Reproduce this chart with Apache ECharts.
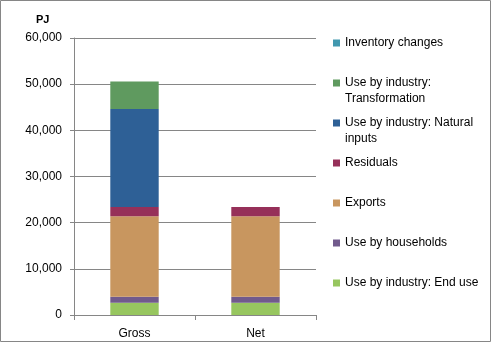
<!DOCTYPE html>
<html><head><meta charset="utf-8">
<script src="https://cdn.jsdelivr.net/npm/echarts@6/dist/echarts.min.js"></script>
<style>html,body{margin:0;padding:0;background:#fff}#c{width:491px;height:342px}</style>
</head><body><div id="c"></div>
<script>
const categories = ['Gross', 'Net'];
const seriesNames = ['Use by industry: End use', 'Use by households', 'Exports', 'Residuals', 'Use by industry: Natural inputs', 'Use by industry: Transformation', 'Inventory changes'];
const endUse = [2650, 2650];
const households = [1300, 1300];
const exportsVals = [17450, 17450];
const residuals = [2000, 2000];
const naturalInputs = [21200, 0];
const transformation = [6000, 0];
const inventory = [0, 0];
const yTicks = [0, 10000, 20000, 30000, 40000, 50000, 60000];
const colors = ['#97C65F', '#715A8C', '#C8965F', '#963059', '#2E6096', '#5F9A5F', '#4198AF'];
const values = [endUse, households, exportsVals, residuals, naturalInputs, transformation, inventory];

const legendOrder = [6, 5, 4, 3, 2, 1, 0];
const legendLabels = {
  'Use by industry: Transformation': '\nUse by industry:\nTransformation',
  'Use by industry: Natural inputs': '\nUse by industry: Natural\ninputs'
};
const font = 'Liberation Sans, Arial, sans-serif';
const legends = legendOrder.map((si, i) => {
  const name = seriesNames[si];
  const two = !!legendLabels[name];
  const center = 43 + i * 40;
  return {
    data: [name], left: 333, top: center - (two ? 24 : 8),
    itemWidth: 7, itemHeight: 7, itemGap: 0, icon: 'rect', padding: 0,
    selectedMode: false,
    formatter: n => legendLabels[n] || n,
    textStyle: { fontFamily: font, fontSize: 12, color: '#000', lineHeight: 16 }
  };
});

const chart = echarts.init(document.getElementById('c'));
chart.setOption({
  animation: false,
  title: { text: 'PJ', left: 36, top: 14, padding: 0, textStyle: { fontFamily: font, fontSize: 11, fontWeight: 'bold', color: '#000' } },
  legend: legends,
  grid: { left: 74, top: 38, right: 175, bottom: 27, containLabel: false },
  xAxis: {
    type: 'category', data: categories,
    axisLine: { lineStyle: { color: '#868686' } },
    axisTick: { show: true, alignWithLabel: false, length: 5, lineStyle: { color: '#868686' } },
    axisLabel: { fontFamily: font, fontSize: 12, color: '#000', margin: 13 }
  },
  yAxis: {
    type: 'value', min: 0, max: 60000, interval: 10000,
    axisLine: { show: true, lineStyle: { color: '#868686' } },
    axisTick: { show: true, length: 4, lineStyle: { color: '#868686' } },
    splitLine: { lineStyle: { color: '#868686' } },
    axisLabel: { fontFamily: font, fontSize: 12, color: '#000', margin: 12,
      formatter: v => v.toLocaleString('en-US') }
  },
  graphic: [{ type: 'rect', shape: { x: 0.5, y: 0.5, width: 490, height: 341 }, style: { fill: 'none', stroke: '#868686', lineWidth: 1 }, silent: true }],
  series: seriesNames.map((n, i) => ({
    name: n, type: 'bar', stack: 'a', data: values[i], barWidth: '40%',
    itemStyle: { color: colors[i] }
  }))
});
</script></body></html>
